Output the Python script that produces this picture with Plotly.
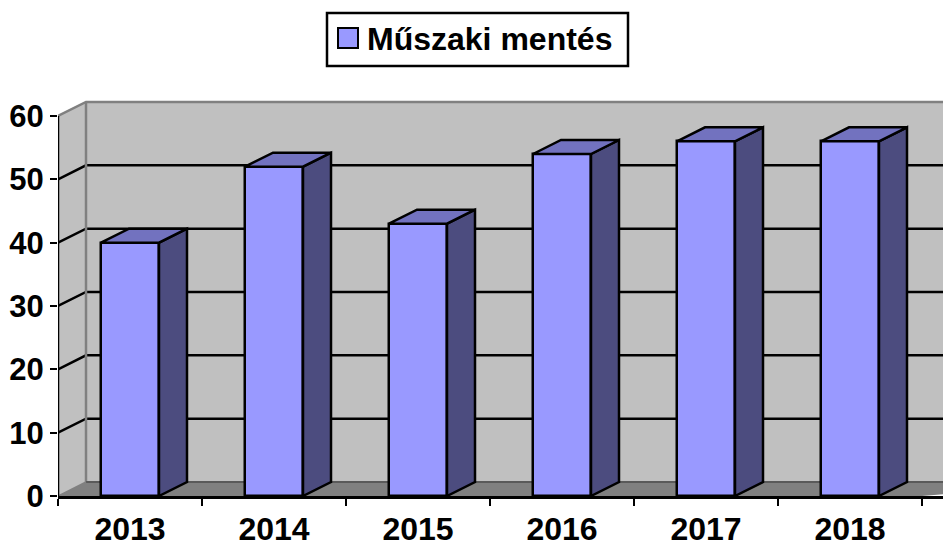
import plotly.graph_objects as go

years = ["2013", "2014", "2015", "2016", "2017", "2018"]
values = [40, 52, 43, 54, 56, 56]
series_name = "Műszaki mentés"
y_ticks = [0, 10, 20, 30, 40, 50, 60]

FONT = "Liberation Sans, Arial, sans-serif"
PX_X, PX_Y = 144.0, 380 / 60
X_MAX, Y_MAX = 885 / PX_X, (496 - 90) / PX_Y
DX, DY = 28 / PX_X, 14 / PX_Y
BAR_W = 58 / PX_X
centers = [i + 0.5 for i in range(len(years))]


def poly(pts):
    return "M" + "L".join(f"{x},{y}" for x, y in pts) + "Z"


shapes = [
    dict(type="path", xref="x", yref="y", layer="below", line=dict(width=0),
         fillcolor="#c0c0c0",
         path=poly([(0, 0), (DX, DY), (X_MAX + 1, DY), (X_MAX + 1, 60 + DY), (DX, 60 + DY), (0, 60)])),
    dict(type="path", xref="x", yref="y", layer="below", line=dict(color="#808080", width=0),
         fillcolor="#808080",
         path=poly([(0, 0), (DX, DY), (X_MAX + 1, DY), (6, 0)])),
]
for t in y_ticks[1:-1]:
    shapes.append(dict(type="path", xref="x", yref="y", layer="below",
                       line=dict(color="black", width=2.5),
                       path=f"M0,{t}L{DX},{t + DY}L{X_MAX + 1},{t + DY}"))
shapes += [
    dict(type="path", xref="x", yref="y", layer="below", line=dict(color="#808080", width=2.5),
         path=f"M0,60L{DX},{60 + DY}L{X_MAX + 1},{60 + DY}"),
    dict(type="line", xref="x", yref="y", layer="below", line=dict(color="#808080", width=2.5),
         x0=DX, x1=DX, y0=DY, y1=60 + DY),
    dict(type="path", xref="x", yref="y", layer="below", line=dict(color="#5a5a5a", width=2),
         path=f"M{DX},{DY}L{X_MAX + 1},{DY}"),
    dict(type="line", xref="x", yref="y", layer="below", line=dict(color="#808080", width=1.5),
         x0=0, x1=DX, y0=0, y1=DY),
    # value axis line, ending at the top tick
    dict(type="line", xref="x", yref="y", layer="above", line=dict(color="black", width=2.5),
         x0=0, x1=0, y0=0, y1=60),
    # legend frame and swatch
    dict(type="rect", xref="paper", yref="paper", x0=(327 - 58) / 885, x1=(628 - 58) / 885,
         y0=(496 - 66) / 406, y1=(496 - 13) / 406, line=dict(color="black", width=2.5),
         fillcolor="white", layer="above"),
    dict(type="rect", xref="paper", yref="paper", x0=(338 - 58) / 885, x1=(358 - 58) / 885,
         y0=(496 - 48) / 406, y1=(496 - 28) / 406, line=dict(color="black", width=2),
         fillcolor="#9999ff", layer="above"),
]

fig = go.Figure()
fig.add_trace(go.Bar(x=centers, y=values, width=BAR_W, name=series_name,
                     marker=dict(color="#9999ff", line=dict(color="black", width=2.5)),
                     showlegend=False))
for c, v in zip(centers, values):
    l, r = c - BAR_W / 2, c + BAR_W / 2
    side = [(r, 0), (r + DX, DY), (r + DX, v + DY), (r, v), (r, 0)]
    top = [(l, v), (l + DX, v + DY), (r + DX, v + DY), (r, v), (l, v)]
    for pts, col in ((side, "#4c4c7f"), (top, "#7272bf")):
        fig.add_trace(go.Scatter(x=[p[0] for p in pts], y=[p[1] for p in pts], mode="lines",
                                 fill="toself", fillcolor=col, hoverinfo="skip",
                                 line=dict(color="black", width=2.5), showlegend=False))

fig.update_layout(
    width=943, height=543, autosize=False,
    margin=dict(l=58, r=0, t=90, b=47, autoexpand=False),
    paper_bgcolor="white", plot_bgcolor="white",
    showlegend=False, shapes=shapes, bargap=0,
    font=dict(family=FONT, color="black"),
    xaxis=dict(range=[0, X_MAX], tickmode="array", tickvals=centers, ticktext=years,
               ticks="outside", ticklen=0, tickwidth=0, ticklabelstandoff=3,
               automargin=False,
               showgrid=False, zeroline=False, showline=True, linecolor="black", linewidth=3,
               tickfont=dict(family=FONT, size=32, weight="bold", color="black"),
               minor=dict(tickmode="array", tickvals=list(range(7)), ticks="outside", ticklen=7,
                          tickwidth=2, tickcolor="black", showgrid=False)),
    yaxis=dict(range=[0, Y_MAX], tickmode="array", tickvals=y_ticks,
               ticks="outside", ticklen=7, tickwidth=2, tickcolor="black",
               automargin=False,
               showgrid=False, zeroline=False, showline=False,
               tickfont=dict(family=FONT, size=31, weight="bold", color="black")),
    annotations=[dict(text=series_name, xref="paper", yref="paper",
                      x=(367 - 58) / 885, y=(496 - 39) / 406, xanchor="left", yanchor="middle",
                      showarrow=False, xshift=-2,
                      font=dict(family=FONT, size=32, weight="bold", color="black"))],
)
fig.write_html("out.html", config={"displayModeBar": False},
               post_script="document.body.style.margin='0';")
